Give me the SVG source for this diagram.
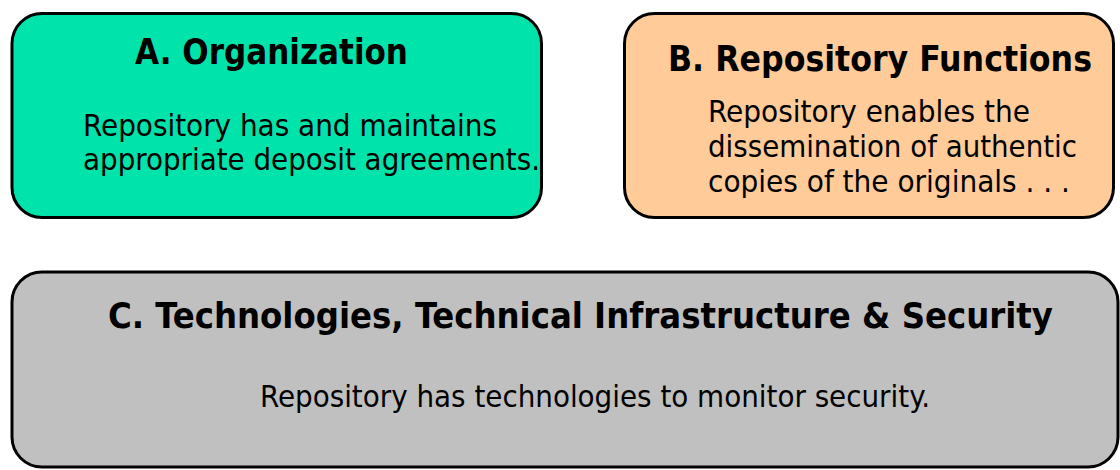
<svg xmlns="http://www.w3.org/2000/svg" width="1120" height="470" viewBox="0 0 1120 470">
  <style>
    .box { stroke: #000; stroke-width: 3; }
    .title { font-family: "DejaVu Sans Condensed", "DejaVu Sans", sans-serif; font-weight: bold; font-size: 35px; fill: #000; }
    .body { font-family: "DejaVu Sans Condensed", "DejaVu Sans", sans-serif; font-size: 31px; fill: #000; }
  </style>
  <rect width="1120" height="470" fill="#fff"/>
  <g id="connectors"></g>
  <g id="nodeA">
    <rect class="box" x="12" y="13.5" width="529.5" height="204" rx="30" ry="30" fill="#00E3AA"/>
    <text class="title" x="135" y="64" textLength="273" lengthAdjust="spacingAndGlyphs">A. Organization</text>
    <text class="body" x="83" y="136" textLength="414" lengthAdjust="spacingAndGlyphs">Repository has and maintains</text>
    <text class="body" x="83" y="170" textLength="457" lengthAdjust="spacingAndGlyphs">appropriate deposit agreements.</text>
  </g>
  <g id="nodeB">
    <rect class="box" x="624.5" y="13.5" width="489" height="204" rx="30" ry="30" fill="#FFCC99"/>
    <text class="title" x="668" y="71" textLength="424" lengthAdjust="spacingAndGlyphs">B. Repository Functions</text>
    <text class="body" x="708" y="122" textLength="322" lengthAdjust="spacingAndGlyphs">Repository enables the</text>
    <text class="body" x="708" y="157" textLength="369" lengthAdjust="spacingAndGlyphs">dissemination of authentic</text>
    <text class="body" x="708" y="192" textLength="362" lengthAdjust="spacingAndGlyphs">copies of the originals . . .</text>
  </g>
  <g id="nodeC">
    <rect class="box" x="12" y="272" width="1106" height="195" rx="30" ry="30" fill="#C0C0C0"/>
    <text class="title" x="108" y="328" textLength="945" lengthAdjust="spacingAndGlyphs">C. Technologies,  Technical  Infrastructure &amp; Security</text>
    <text class="body" x="260" y="407" textLength="670" lengthAdjust="spacingAndGlyphs">Repository has technologies to monitor security.</text>
  </g>
</svg>
